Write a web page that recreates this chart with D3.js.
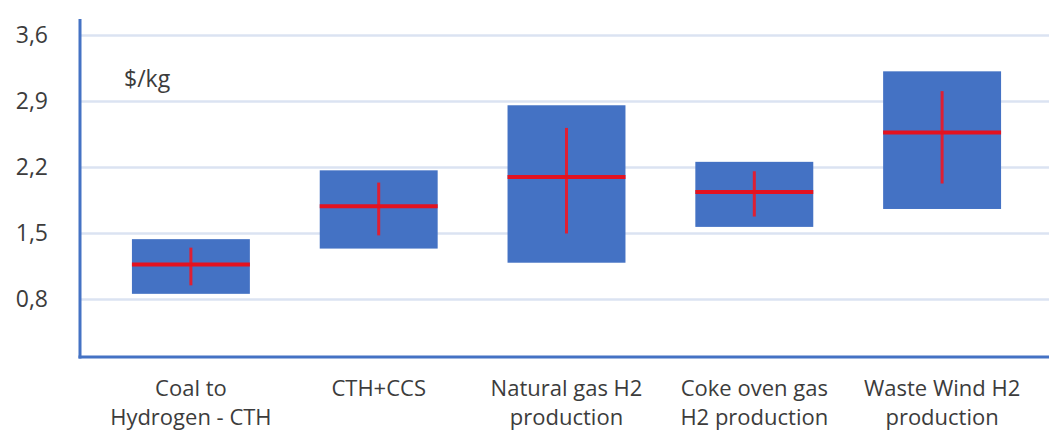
<!DOCTYPE html>
<html>
<head>
<meta charset="utf-8">
<script src="https://cdn.jsdelivr.net/npm/d3@7"></script>
<style>
  html, body { margin: 0; padding: 0; background: #ffffff; }
  svg { display: block; }
  text { font-family: "Open Sans", "Noto Sans", sans-serif; fill: #3c3c3c; font-weight: 500; }
</style>
</head>
<body>
<svg id="chart" width="1049" height="438"></svg>
<script>
// Hydrogen production cost ranges, $/kg
const categories = [
  "Coal to\nHydrogen - CTH",
  "CTH+CCS",
  "Natural gas H2\nproduction",
  "Coke oven gas\nH2 production",
  "Waste Wind H2\nproduction"
];
const boxLow    = [0.86, 1.34, 1.19, 1.57, 1.76];
const boxHigh   = [1.44, 2.17, 2.86, 2.26, 3.22];
const midValue  = [1.17, 1.79, 2.10, 1.94, 2.57];
const rangeLow  = [0.95, 1.48, 1.50, 1.68, 2.03];
const rangeHigh = [1.35, 2.04, 2.62, 2.16, 3.01];
const yTicks    = [0.8, 1.5, 2.2, 2.9, 3.6];
const unitLabel = "$/kg";

const rows = categories.map((c, i) => ({
  cat: c, lo: boxLow[i], hi: boxHigh[i], mid: midValue[i],
  rLo: rangeLow[i], rHi: rangeHigh[i]
}));

const svg = d3.select("#chart");
const W = 1049;
const plotLeft = 80, plotBottom = 357, plotTop = 35.5, axisTop = 19;

const x = d3.scaleBand()
  .domain(categories)
  .range([97, 1036])
  .paddingInner(0.372)
  .paddingOuter(0.186);

const y = d3.scaleLinear().domain([0.19, 3.6]).range([plotBottom, plotTop]);

const locale = d3.formatLocale({ decimal: ",", thousands: ".", grouping: [3], currency: ["", "$"] });
const fmt = locale.format(".1f");

// horizontal gridlines
svg.append("g")
  .selectAll("line")
  .data(yTicks)
  .join("line")
  .attr("x1", plotLeft).attr("x2", W)
  .attr("y1", d => y(d)).attr("y2", d => y(d))
  .attr("stroke", "#dbe3f2")
  .attr("stroke-width", 2.5);

// y tick labels
const yAxis = d3.axisLeft(y).tickValues(yTicks).tickFormat(fmt).tickSize(0).tickPadding(32);
const gy = svg.append("g").attr("transform", `translate(${plotLeft},0)`).call(yAxis);
gy.select(".domain").remove();
gy.selectAll("text")
  .style("font-family", "'Open Sans', sans-serif")
  .style("font-weight", 500)
  .attr("font-size", 23)
  .attr("fill", "#3c3c3c");

// boxes
svg.append("g")
  .selectAll("rect")
  .data(rows)
  .join("rect")
  .attr("x", d => x(d.cat))
  .attr("width", x.bandwidth())
  .attr("y", d => y(d.hi))
  .attr("height", d => y(d.lo) - y(d.hi))
  .attr("fill", "#4472c4");

// vertical range lines
svg.append("g")
  .selectAll("line")
  .data(rows)
  .join("line")
  .attr("x1", d => x(d.cat) + x.bandwidth() / 2)
  .attr("x2", d => x(d.cat) + x.bandwidth() / 2)
  .attr("y1", d => y(d.rHi))
  .attr("y2", d => y(d.rLo))
  .attr("stroke", "#de1f33")
  .attr("stroke-width", 3);

// central value lines
svg.append("g")
  .selectAll("line")
  .data(rows)
  .join("line")
  .attr("x1", d => x(d.cat))
  .attr("x2", d => x(d.cat) + x.bandwidth())
  .attr("y1", d => y(d.mid))
  .attr("y2", d => y(d.mid))
  .attr("stroke", "#e3121f")
  .attr("stroke-width", 4);

// axis lines
svg.append("line")
  .attr("x1", plotLeft).attr("x2", plotLeft)
  .attr("y1", axisTop).attr("y2", plotBottom + 1.5)
  .attr("stroke", "#4472c4").attr("stroke-width", 3);
svg.append("line")
  .attr("x1", plotLeft - 1.5).attr("x2", W)
  .attr("y1", plotBottom).attr("y2", plotBottom)
  .attr("stroke", "#4472c4").attr("stroke-width", 3);

// category labels
const labels = svg.append("g")
  .selectAll("text")
  .data(categories)
  .join("text")
  .attr("text-anchor", "middle")
  .attr("font-size", 22)
  .attr("y", 396);
labels.each(function (d) {
  const t = d3.select(this);
  d.split("\n").forEach((line, i) => {
    t.append("tspan")
      .attr("x", x(d) + x.bandwidth() / 2)
      .attr("dy", i === 0 ? 0 : 29)
      .text(line);
  });
});

// unit label
svg.append("text")
  .attr("x", 124)
  .attr("y", 87)
  .attr("font-size", 23)
  .text(unitLabel);
</script>
</body>
</html>
